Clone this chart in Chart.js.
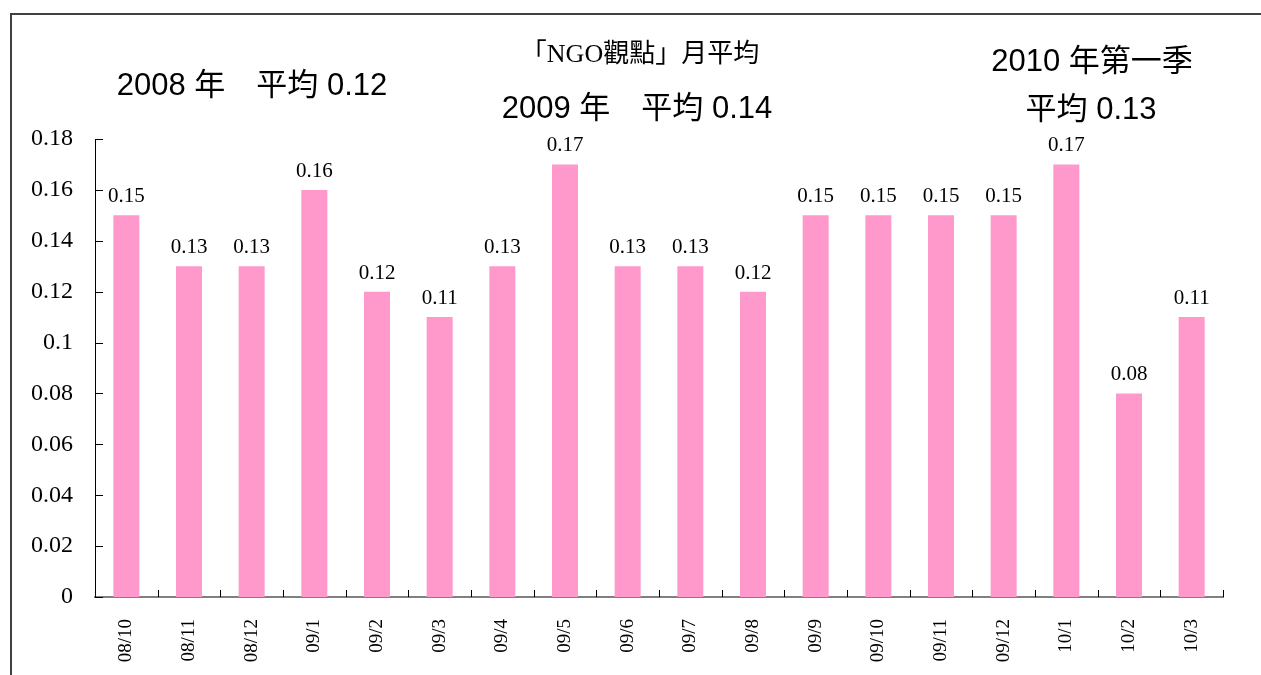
<!DOCTYPE html>
<html>
<head>
<meta charset="utf-8">
<script src="https://cdn.jsdelivr.net/npm/chart.js@4.4.1/dist/chart.umd.min.js"></script>
<style>
  html, body { margin: 0; padding: 0; background: #fff; overflow: hidden; }
  #wrap { position: relative; width: 1261px; height: 675px; }
  #frame { position: absolute; left: 10px; top: 13px; width: 1400px; height: 800px; border: 2px solid #404040; box-sizing: border-box; }
  #c { position: absolute; left: 0; top: 0; }
</style>
</head>
<body>
<div id="wrap">
  <div id="frame"></div>
  <canvas id="c" width="1261" height="675"></canvas>
</div>
<script>
const months = ["08/10", "08/11", "08/12", "09/1", "09/2", "09/3", "09/4", "09/5", "09/6",
  "09/7", "09/8", "09/9", "09/10", "09/11", "09/12", "10/1", "10/2", "10/3"];
const monthlyAvg = [0.15, 0.13, 0.13, 0.16, 0.12, 0.11, 0.13, 0.17, 0.13,
  0.13, 0.12, 0.15, 0.15, 0.15, 0.15, 0.17, 0.08, 0.11];
const yTickLabels = ["0", "0.02", "0.04", "0.06", "0.08", "0.1", "0.12", "0.14", "0.16", "0.18"];
const chartTitle = "「NGO觀點」月平均";
const yearNotes = ["2008 年　平均 0.12", "2009 年　平均 0.14", "2010 年第一季", "平均 0.13"];

const serif = '"Liberation Serif", "Times New Roman", "Noto Sans CJK TC", serif';
const sans = '"Liberation Sans", Arial, "Noto Sans CJK TC", sans-serif';
const barColor = "#ff99cc";

// tick marks point inward, value labels sit on the bars, notes float over the plot
const overlay = {
  id: "overlay",
  afterDraw(chart) {
    const ctx = chart.ctx;
    const x = chart.scales.x;
    const y = chart.scales.y;
    ctx.save();
    ctx.strokeStyle = "#000";
    ctx.lineWidth = 1;
    ctx.beginPath();
    for (let i = 0; i <= months.length; i++) {
      const px = Math.round(x.getPixelForValue(i - 0.5)) + 0.5;
      ctx.moveTo(px, y.bottom);
      ctx.lineTo(px, y.bottom - 7);
    }
    y.ticks.forEach((t) => {
      const py = Math.round(y.getPixelForValue(t.value)) + 0.5;
      ctx.moveTo(x.left, py);
      ctx.lineTo(x.left + 8, py);
    });
    ctx.stroke();

    ctx.fillStyle = "#000";
    ctx.font = "21px " + serif;
    ctx.textAlign = "center";
    ctx.textBaseline = "alphabetic";
    chart.getDatasetMeta(0).data.forEach((bar, i) => {
      ctx.fillText(monthlyAvg[i].toFixed(2), bar.x, bar.y - 13);
    });

    ctx.textBaseline = "middle";
    ctx.font = "26px " + serif;
    ctx.fillText(chartTitle, 640, 55);
    ctx.font = "31px " + sans;
    ctx.fillText(yearNotes[0], 252, 86);
    ctx.fillText(yearNotes[1], 637, 109);
    ctx.fillText(yearNotes[2], 1092, 62);
    ctx.fillText(yearNotes[3], 1091, 110);
    ctx.restore();
  }
};

new Chart(document.getElementById("c"), {
  type: "bar",
  data: {
    labels: months,
    datasets: [{
      data: monthlyAvg,
      backgroundColor: barColor,
      borderWidth: 0,
      barPercentage: 0.83,
      categoryPercentage: 0.5,
    }],
  },
  options: {
    responsive: false,
    animation: false,
    devicePixelRatio: 1,
    layout: { padding: { left: 0, top: 139, right: 38, bottom: 0 } },
    plugins: { legend: { display: false }, tooltip: { enabled: false } },
    scales: {
      x: {
        offset: true,
        z: 1,
        grid: { display: false, drawTicks: false, offset: true },
        border: { display: true, color: "#808080", width: 2 },
        ticks: {
          color: "#000",
          font: { family: serif, size: 19 },
          minRotation: 90,
          maxRotation: 90,
          padding: 22,
          autoSkip: false,
        },
        afterFit(scale) { scale.height = 78; },
      },
      y: {
        min: 0,
        max: 0.18,
        grid: { display: false, drawTicks: false },
        border: { display: true, color: "#000", width: 1 },
        ticks: {
          stepSize: 0.02,
          color: "#000",
          font: { family: serif, size: 24 },
          padding: 22,
          callback: (v, i) => yTickLabels[i],
        },
        afterFit(scale) { scale.width = 95; },
      },
    },
  },
  plugins: [overlay],
});
</script>
</body>
</html>
